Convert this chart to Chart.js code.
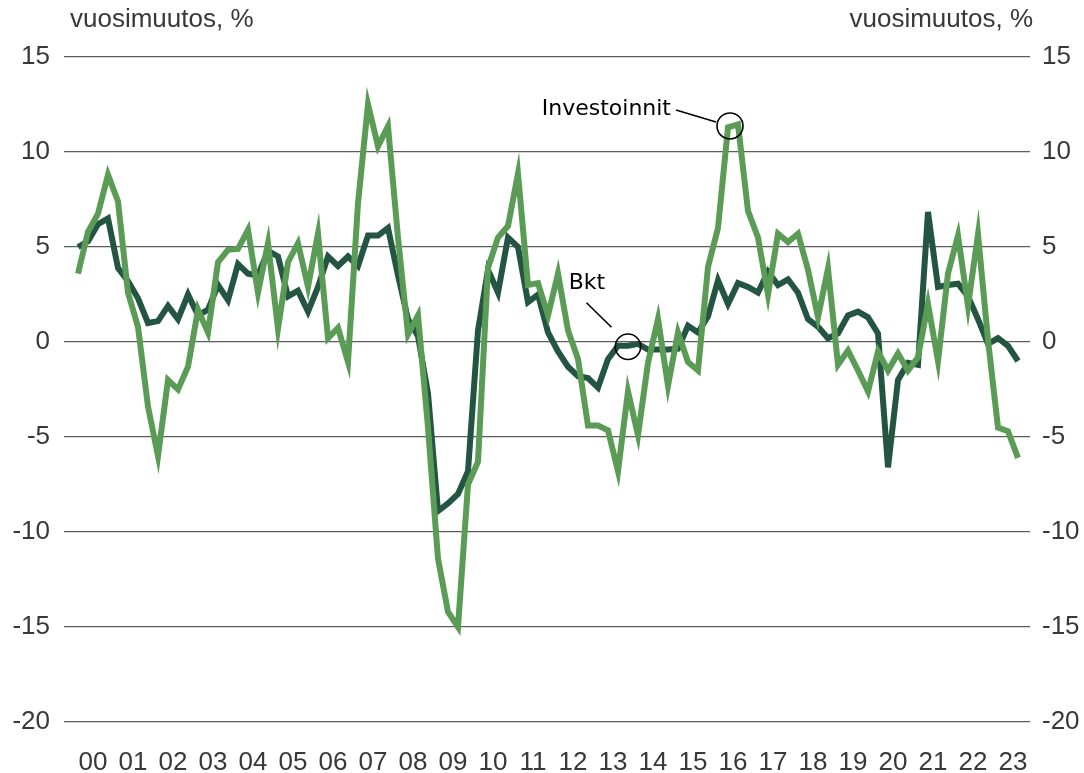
<!DOCTYPE html>
<html>
<head>
<meta charset="utf-8">
<script src="https://cdn.jsdelivr.net/npm/chart.js@4.4.1/dist/chart.umd.min.js"></script>
<style>
html,body{margin:0;padding:0;background:#fff;}
#wrap{width:1084px;height:773px;}
</style>
</head>
<body>
<div id="wrap"><canvas id="c" width="1084" height="773"></canvas></div>
<script>
// Quarterly data, 2000 Q1 .. 2023 Q3 (year-on-year change, %)
const yearLabels = ["00","01","02","03","04","05","06","07","08","09","10","11","12","13","14","15","16","17","18","19","20","21","22","23"];
const yTickValues = [15,10,5,0,-5,-10,-15,-20];
const axisTitle = "vuosimuutos, %";

const bkt = [
 5.0, 5.3, 6.2, 6.5,   3.9, 3.2, 2.3, 1.0,   1.1, 1.9, 1.2, 2.5,   1.4, 1.7, 3.0, 2.2,
 4.1, 3.6, 3.5, 4.8,   4.5, 2.4, 2.7, 1.6,   2.9, 4.5, 4.0, 4.5,   4.0, 5.6, 5.6, 6.0,
 3.5, 1.2, 0.3, -2.7,  -8.9, -8.5, -8.0, -6.8, 0.6, 3.8, 2.6, 5.5,  5.0, 2.1, 2.5, 0.5,
 -0.5, -1.3, -1.8, -1.9, -2.4, -0.9, -0.2, -0.2, -0.1, -0.4, -0.4, -0.4, -0.35, 0.85, 0.5, 1.35,
 3.25, 2.0, 3.1, 2.9,  2.6, 3.7, 3.0, 3.3,   2.6, 1.2, 0.8, 0.2,   0.45, 1.4, 1.6, 1.3,
 0.45, -6.6, -2.0, -1.1, -1.2, 6.85, 2.9, 3.0, 3.07, 2.4, 1.2, -0.1, 0.2, -0.2, -1.0
];
const investoinnit = [
 3.6, 5.8, 6.75, 8.8,  7.4, 2.6, 0.8, -3.4,  -6.0, -2.0, -2.5, -1.3, 1.7, 0.5, 4.2, 4.85,
 4.9, 5.9, 2.6, 5.2,   0.7, 4.2, 5.2, 2.9,   5.7, 0.2, 0.75, -1.05, 7.3, 12.5, 10.3, 11.35,
 5.5, 0.4, 1.4, -4.5,  -11.4, -14.2, -15.0, -7.5, -6.3, 3.9, 5.5, 6.1, 8.86, 3.0, 3.1, 1.4,
 3.6, 0.6, -0.9, -4.4, -4.4, -4.65, -6.8, -2.6, -4.9, -1.1, 1.2, -2.3, 0.5, -1.05, -1.5, 3.95,
 6.0, 11.3, 11.45, 6.9, 5.5, 2.5, 5.7, 5.26, 5.7, 3.8, 1.3, 3.86, -1.2, -0.45, -1.5, -2.6,
 -0.5, -1.5, -0.6, -1.5, -0.8, 2.0, -1.0, 3.6, 5.6, 1.9, 5.67, 0.1, -4.5, -4.7, -6.1
];

const toPoints = arr => arr.map((v, i) => ({x: i, y: v}));

const TICK_FONT = {family: "'Liberation Sans', Arial, sans-serif", size: 26};
const TICK_COLOR = '#383838';

const overlay = {
  id: 'overlay',
  afterDraw(chart) {
    const ctx = chart.ctx;
    const xs = chart.scales.x, ys = chart.scales.y;
    ctx.save();
    // axis titles
    ctx.fillStyle = TICK_COLOR;
    ctx.font = "26px 'Liberation Sans', Arial, sans-serif";
    ctx.textBaseline = 'middle';
    ctx.textAlign = 'left';
    ctx.fillText(axisTitle, 70, 20);
    ctx.textAlign = 'right';
    ctx.fillText(axisTitle, 1033, 20);

    // annotations
    ctx.strokeStyle = '#000';
    ctx.lineWidth = 1.6;
    ctx.fillStyle = '#000';
    ctx.font = "22px 'DejaVu Sans', sans-serif";
    // Bkt
    const bx = xs.getPixelForValue(55), by = ys.getPixelForValue(-0.25);
    ctx.beginPath(); ctx.arc(bx, by, 12.7, 0, Math.PI*2); ctx.stroke();
    ctx.beginPath(); ctx.moveTo(bx - 41.5, by - 44); ctx.lineTo(bx - 16.5, by - 19.5); ctx.stroke();
    ctx.textAlign = 'center'; ctx.textBaseline = 'middle';
    ctx.fillText('Bkt', bx - 41, by - 63);
    // Investoinnit
    const ix = xs.getPixelForValue(65.2), iy = ys.getPixelForValue(11.37);
    ctx.beginPath(); ctx.arc(ix, iy, 13, 0, Math.PI*2); ctx.stroke();
    ctx.beginPath(); ctx.moveTo(ix - 54, iy - 16); ctx.lineTo(ix - 14, iy - 4); ctx.stroke();
    ctx.textAlign = 'right';
    ctx.fillText('Investoinnit', ix - 59, iy - 17);
    ctx.restore();
  }
};

new Chart(document.getElementById('c'), {
  type: 'line',
  data: {
    datasets: [
      {label: 'Investoinnit', data: toPoints(investoinnit), borderColor: '#5a9c55', borderWidth: 6, pointRadius: 0, tension: 0, order: 0, borderJoinStyle: 'miter'},
      {label: 'Bkt', data: toPoints(bkt), borderColor: '#245543', borderWidth: 6, pointRadius: 0, tension: 0, order: 1, borderJoinStyle: 'miter'}
    ]
  },
  options: {
    responsive: false,
    animation: false,
    events: [],
    layout: {padding: {top: 57, left: 0, right: 0, bottom: 0}},
    plugins: {legend: {display: false}, tooltip: {enabled: false}},
    scales: {
      x: {
        type: 'linear', min: -1.4, max: 95.2,
        grid: {display: false, drawTicks: false},
        border: {display: false},
        afterBuildTicks: s => { s.ticks = yearLabels.map((l, k) => ({value: 1.5 + 4*k})); },
        afterFit: s => { s.height = 51; },
        ticks: {autoSkip: false, maxRotation: 0, padding: 25, font: TICK_FONT, color: TICK_COLOR,
                callback: (v, i) => yearLabels[i]}
      },
      y: {
        type: 'linear', position: 'left', min: -20, max: 15,
        grid: {color: '#5c5c5c', lineWidth: 1.3, drawTicks: false},
        border: {display: false},
        afterBuildTicks: s => { s.ticks = yTickValues.map(v => ({value: v})); },
        afterFit: s => { s.width = 64; },
        ticks: {padding: 14, font: TICK_FONT, color: TICK_COLOR, callback: v => String(v)}
      },
      y2: {
        type: 'linear', position: 'right', min: -20, max: 15,
        grid: {display: false, drawTicks: false},
        border: {display: false},
        afterBuildTicks: s => { s.ticks = yTickValues.map(v => ({value: v})); },
        afterFit: s => { s.width = 54; },
        ticks: {padding: 12, font: TICK_FONT, color: TICK_COLOR, callback: v => String(v)}
      }
    }
  },
  plugins: [overlay]
});
</script>
</body>
</html>
